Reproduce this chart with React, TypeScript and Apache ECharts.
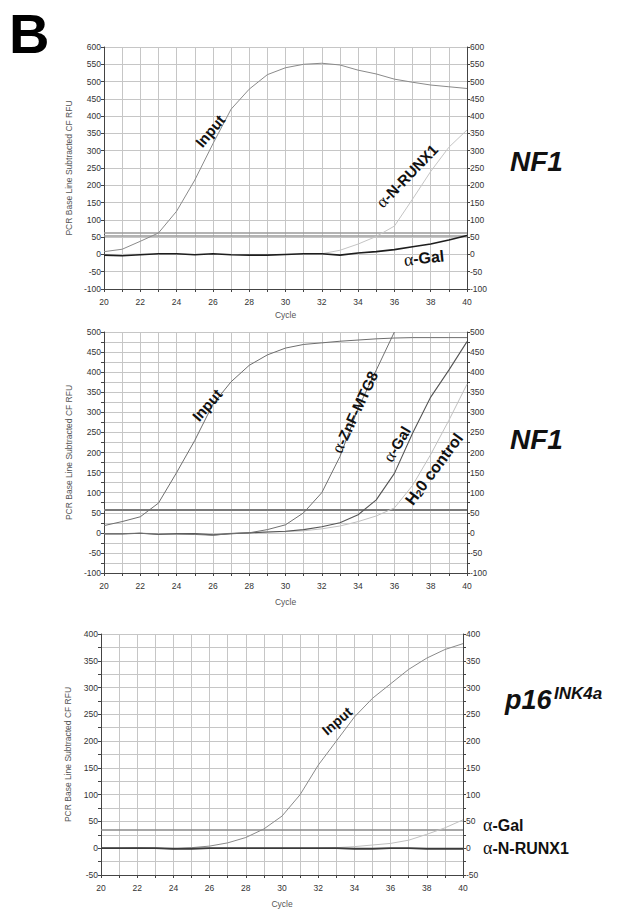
import React, { useEffect, useRef } from "react";
import * as echarts from "echarts";

// ---- data ----
const cycles = [20, 21, 22, 23, 24, 25, 26, 27, 28, 29, 30, 31, 32, 33, 34, 35, 36, 37, 38, 39, 40];

// Panel 1 (NF1, top)
const topInput = [8, 15, 38, 62, 125, 215, 320, 420, 478, 520, 540, 550, 553, 548, 533, 522, 507, 498, 490, 485, 480];
const topNRunx1 = [0, 0, 1, 0, 0, 0, 0, 0, 0, 0, 0, 1, 2, 12, 30, 52, 82, 160, 240, 310, 360];
const topGal = [-2, -4, -1, 2, 2, -1, 2, -1, -2, -2, 0, 2, 2, -2, 4, 8, 14, 22, 30, 42, 55];
const topThresholds = [54, 62];

// Panel 2 (NF1, middle)
const midInput = [18, 28, 40, 74, 150, 230, 320, 376, 417, 443, 460, 469, 473, 477, 480, 483, 485, 486, 486, 486, 486];
const midZnF = [-2, -2, -1, -3, -3, -4, -6, -2, 0, 8, 20, 50, 100, 190, 310, 405, 500, null, null, null, null];
const midGal = [-3, -3, -1, -4, -2, -2, -5, -2, 0, 2, 4, 8, 15, 25, 45, 82, 148, 248, 338, 405, 476];
const midH2O = [-2, -2, -1, -2, -2, -3, -4, -1, 0, 2, 3, 5, 10, 17, 28, 42, 62, 118, 195, 280, 370];
const midThresholds = [57];

// Panel 3 (p16INK4a, bottom)
const botInput = [0, 0, 1, 0, -1, 1, 4, 10, 20, 36, 60, 100, 155, 200, 245, 280, 307, 334, 355, 371, 382];
const botGal = [0, 0, 0, 0, -1, 0, 0, 0, 0, 0, 0, 0, 0, 1, 3, 6, 9, 15, 26, 38, 53];
const botNRunx1 = [0, 0, 0, 0, -1, -1, 0, 0, 0, 0, 0, 0, 0, 0, -1, -1, 0, 0, -1, -1, -1];
const botThresholds = [34];

const FONT = "Liberation Sans, Arial, sans-serif";
const SERIF = "Liberation Serif, Times New Roman, serif";

function pairs(vals: (number | null)[]) {
  const out: number[][] = [];
  vals.forEach((v, i) => {
    if (v !== null) out.push([cycles[i], v]);
  });
  return out;
}

function yAx(gridIndex: number, min: number, max: number, interval: number, pos: "left" | "right", labelStep: number, nameGap: number) {
  const ax: any = {
    type: "value",
    gridIndex,
    min,
    max,
    interval,
    position: pos,
    axisLine: { show: true, onZero: false, lineStyle: { color: "#444", width: 1 } },
    axisTick: { show: true, length: 3, lineStyle: { color: "#444" } },
    axisLabel: {
      fontSize: 8.5,
      color: "#333",
      fontFamily: FONT,
      margin: 3,
      formatter: (v: number) => (v % labelStep === 0 ? String(v) : ""),
    },
    splitLine: { show: pos === "left", lineStyle: { color: "#c6c6c6", width: 1 } },
  };
  if (pos === "left") {
    ax.name = "PCR Base Line Subtracted CF RFU";
    ax.nameLocation = "middle";
    ax.nameGap = nameGap;
    ax.nameTextStyle = { fontSize: 8.5, color: "#555", fontFamily: FONT };
  }
  return ax;
}

function xAx(gridIndex: number, nameGap: number) {
  return {
    type: "value",
    gridIndex,
    min: 20,
    max: 40,
    interval: 1,
    axisLine: { show: true, onZero: false, lineStyle: { color: "#444", width: 1 } },
    axisTick: { show: true, length: 3, lineStyle: { color: "#444" } },
    axisLabel: {
      fontSize: 8.5,
      color: "#333",
      fontFamily: FONT,
      margin: 8,
      formatter: (v: number) => (v % 2 === 0 ? String(v) : ""),
    },
    splitLine: { show: true, lineStyle: { color: "#c6c6c6", width: 1 } },
    name: "Cycle",
    nameLocation: "middle",
    nameGap,
    nameTextStyle: { fontSize: 8.5, color: "#555", fontFamily: FONT },
  };
}

function line(xi: number, yi: number, vals: (number | null)[], color: string, width: number, marks?: number[], markColor?: string, markWidth?: number) {
  const s: any = {
    type: "line",
    xAxisIndex: xi,
    yAxisIndex: yi,
    data: pairs(vals),
    symbol: "none",
    clip: true,
    lineStyle: { color, width },
    z: 3,
  };
  if (marks) {
    s.markLine = {
      symbol: "none",
      silent: true,
      label: { show: false },
      lineStyle: { color: markColor, width: markWidth, type: "solid" },
      data: marks.map((m) => ({ yAxis: m })),
      z: 2,
    };
  }
  return s;
}

const rad = (d: number) => (d * Math.PI) / 180;

const richStyles = (size: number) => ({
  g: { fontFamily: SERIF, fontSize: size + 2, fontWeight: "normal", fill: "#111" },
  b: { fontFamily: FONT, fontSize: size, fontWeight: "bold", fill: "#111" },
  s: { fontFamily: FONT, fontSize: Math.round(size * 0.62), fontWeight: "bold", fill: "#111", verticalAlign: "bottom" },
});

function curveLabel(text: string, x: number, y: number, deg: number, size: number, align: string = "center") {
  return {
    type: "text",
    x,
    y,
    rotation: rad(deg),
    z: 100,
    style: {
      text,
      rich: richStyles(size),
      align,
      verticalAlign: "middle",
    },
  };
}

export default function App() {
  const ref = useRef<HTMLDivElement>(null);
  useEffect(() => {
    if (!ref.current) return;
    const chart = echarts.init(ref.current, undefined, { renderer: "svg" });
    const option: any = {
      animation: false,
      backgroundColor: "#ffffff",
      grid: [
        { left: 104, top: 47, width: 363, height: 242 },
        { left: 104, top: 332, width: 363, height: 241 },
        { left: 101, top: 634, width: 362, height: 241 },
      ],
      xAxis: [xAx(0, 21), xAx(1, 24), xAx(2, 24)],
      yAxis: [
        yAx(0, -100, 600, 50, "left", 50, 30),
        yAx(0, -100, 600, 50, "right", 50, 0),
        yAx(1, -100, 500, 25, "left", 50, 23),
        yAx(1, -100, 500, 25, "right", 50, 0),
        yAx(2, -50, 400, 25, "left", 50, 20),
        yAx(2, -50, 400, 25, "right", 50, 0),
      ],
      series: [
        line(0, 0, topInput, "#8a8a8a", 1, topThresholds, "#9a9a9a", 1.5),
        line(0, 0, topNRunx1, "#c4c4c4", 1),
        line(0, 0, topGal, "#1e1e1e", 1.6),
        line(1, 2, midInput, "#6e6e6e", 1, midThresholds, "#7a7a7a", 2),
        line(1, 2, midH2O, "#c0c0c0", 1),
        line(1, 2, midGal, "#555555", 1.1),
        line(1, 2, midZnF, "#707070", 1),
        line(2, 4, botInput, "#8a8a8a", 1, botThresholds, "#8a8a8a", 1.5),
        line(2, 4, botGal, "#c0c0c0", 1),
        line(2, 4, botNRunx1, "#3a3a3a", 1.8),
      ],
      graphic: [
        {
          type: "text",
          x: 9,
          y: 33,
          z: 100,
          style: { text: "B", font: `bold 56px ${FONT}`, fill: "#000", align: "left", verticalAlign: "middle" },
        },
        {
          type: "text",
          x: 510,
          y: 161,
          z: 100,
          style: { text: "NF1", font: `italic bold 28px ${FONT}`, fill: "#111", align: "left", verticalAlign: "middle" },
        },
        {
          type: "text",
          x: 510,
          y: 439,
          z: 100,
          style: { text: "NF1", font: `italic bold 28px ${FONT}`, fill: "#111", align: "left", verticalAlign: "middle" },
        },
        {
          type: "text",
          x: 505,
          y: 700,
          z: 100,
          style: { text: "p16", font: `italic bold 27px ${FONT}`, fill: "#111", align: "left", verticalAlign: "middle" },
        },
        {
          type: "text",
          x: 554,
          y: 693,
          z: 100,
          style: { text: "INK4a", font: `italic bold 17px ${FONT}`, fill: "#111", align: "left", verticalAlign: "middle" },
        },
        // top panel labels
        curveLabel("{b|Input}", 210, 131, 50, 15),
        curveLabel("{g|α}{b|-N-RUNX1}", 407, 176, 46, 15),
        curveLabel("{g|α}{b|-Gal}", 424, 258, 6, 16),
        // middle panel labels
        curveLabel("{b|Input}", 207, 405, 49, 15),
        curveLabel("{g|α}{b|-ZnF-MTG8}", 355, 412, 65, 15),
        curveLabel("{g|α}{b|-Gal}", 397, 444, 59, 15),
        curveLabel("{b|H}{s|2}{b|0 control}", 434, 469, 53, 16),
        // bottom panel labels
        curveLabel("{b|Input}", 337, 721, 41, 14),
        curveLabel("{g|α}{b|-Gal}", 483, 825, 0, 16, "left"),
        curveLabel("{g|α}{b|-N-RUNX1}", 483, 848, 0, 16, "left"),
      ],
    };
    chart.setOption(option);
    return () => chart.dispose();
  }, []);
  return <div ref={ref} style={{ position: "absolute", left: 0, top: 0, width: 644, height: 910 }} />;
}
